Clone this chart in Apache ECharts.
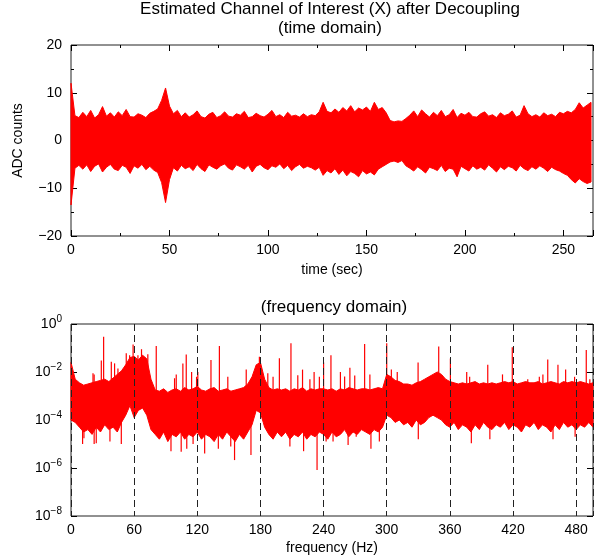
<!DOCTYPE html>
<html>
<head>
<meta charset="utf-8">
<script src="https://cdn.jsdelivr.net/npm/echarts@6/dist/echarts.min.js"></script>
<style>
  html, body { margin: 0; padding: 0; background: #fff; }
  #chart { width: 594px; height: 560px; }
</style>
</head>
<body>
<div id="chart"></div>
<script>
// ---------------- DATA ----------------
// Time domain: envelope of the signal, one pair per 2-second bin (t = 0, 2, ..., 264)
var timeStep = 2;
var timeHigh = [
  12.0, 5.2, 4.8, 5.9, 5.0, 6.3, 4.7, 5.4, 7.1, 5.1,
  5.8, 4.9, 6.0, 5.2, 6.5, 5.0, 4.9, 5.6, 5.3, 4.8,
  5.7, 6.1, 6.6, 8.4, 11.0, 7.2, 5.6, 6.3, 5.0, 5.8,
  4.9, 5.4, 6.2, 5.0, 4.7, 5.5, 5.9, 4.8, 5.2, 6.0,
  5.1, 4.9, 5.6, 5.3, 6.1, 4.8, 5.0, 5.7, 5.2, 4.9,
  5.5, 6.3, 5.0, 5.4, 4.8, 5.9, 5.1, 5.3, 4.9, 5.6,
  5.0, 5.4, 5.2, 6.0, 8.0, 6.1, 5.8, 6.6, 5.9, 6.9,
  6.2, 7.3, 6.0, 6.8, 6.4, 7.0, 6.1, 8.0, 6.5, 6.9,
  5.8, 4.2, 3.9, 4.1, 4.0, 4.6, 5.3, 6.2, 5.0, 6.4,
  5.6, 4.9, 5.9, 5.2, 6.3, 5.0, 5.4, 6.5, 4.8, 5.7,
  5.3, 5.9, 5.0, 4.9, 5.6, 6.0, 5.1, 5.4, 4.8, 5.8,
  5.2, 5.5, 6.2, 4.9, 5.3, 7.3, 5.6, 5.0, 5.4, 4.9,
  5.8, 5.2, 5.5, 5.0, 5.9, 5.6, 6.1, 5.8, 6.5, 7.9,
  6.8, 7.4, 8.0
];
var timeLow = [
  -13.5, -5.8, -5.2, -6.0, -5.1, -6.5, -5.4, -4.9, -6.6, -5.6,
  -5.0, -6.0, -6.3, -5.2, -5.6, -6.9, -5.3, -5.8, -5.0, -6.1,
  -5.4, -6.2, -6.7, -8.8, -13.0, -8.2, -5.7, -6.4, -5.2, -5.9,
  -5.5, -6.3, -5.0, -5.9, -6.5, -5.1, -5.6, -6.0, -5.3, -4.9,
  -5.8, -6.2, -5.1, -5.5, -6.0, -5.2, -6.6, -5.4, -5.0, -5.7,
  -6.1, -5.3, -5.6, -4.9, -5.9, -5.2, -6.3, -5.5, -5.0, -5.8,
  -5.4, -5.7, -6.2, -5.6, -7.3, -6.3, -6.8, -5.9, -7.1, -6.2,
  -7.4, -6.5, -6.9, -7.6, -6.3, -7.0, -6.6, -7.2, -6.0, -5.5,
  -5.0, -4.5, -4.3, -4.6, -4.2, -5.3, -5.8, -6.4, -5.5, -6.1,
  -6.8, -5.6, -5.9, -6.3, -5.2, -6.5, -5.8, -6.0, -7.6, -5.4,
  -5.9, -6.4, -5.3, -6.0, -5.6, -6.2, -5.1, -5.8, -6.6, -5.5,
  -6.1, -5.4, -5.7, -6.4, -5.2, -5.9, -6.3, -5.5, -6.0, -5.3,
  -5.8, -6.5, -5.6, -6.1, -6.4, -6.9, -7.3, -8.2, -8.9, -8.0,
  -8.6, -9.0, -8.7
];

// Frequency domain: envelope (log10 of magnitude), one pair per 4 Hz bin (f = 0, 4, ..., 496)
var freqStep = 4;
var freqHighLog = [
  -1.6, -2.3, -2.45, -2.55, -2.5, -2.45, -2.4, -2.35, -2.3, -2.4,
  -2.25, -2.1, -1.95, -1.7, -1.4, -1.35, -1.5, -1.3, -1.45, -2.3,
  -2.75, -2.8, -2.7, -2.85, -2.75, -2.7, -2.8, -2.65, -2.75, -2.7,
  -2.6, -2.75, -2.8, -2.7, -2.65, -2.8, -2.75, -2.7, -2.8, -2.75,
  -2.7, -2.65, -2.5, -2.2, -1.7, -1.6, -2.3, -2.65, -2.75, -2.7,
  -2.75, -2.7, -2.8, -2.7, -2.75, -2.65, -2.8, -2.7, -2.75, -2.7,
  -2.7, -2.75, -2.7, -2.8, -2.7, -2.75, -2.65, -2.7, -2.75, -2.7,
  -2.7, -2.75, -2.7, -2.65, -2.7, -2.1, -2.2, -2.35, -2.4, -2.5,
  -2.5, -2.55, -2.45, -2.4, -2.3, -2.2, -2.1, -2.0, -2.1, -2.3,
  -2.4, -2.45, -2.5, -2.45, -2.5, -2.45, -2.4, -2.5, -2.45, -2.5,
  -2.45, -2.5, -2.45, -2.4, -2.45, -2.4, -2.5, -2.45, -2.4, -2.45,
  -2.45, -2.4, -2.5, -2.45, -2.4, -2.45, -2.5, -2.4, -2.45, -2.4,
  -2.45, -2.4, -2.45, -2.5, -2.45
];
var freqLowLog = [
  -4.0, -4.1, -4.3, -4.5, -4.4, -4.6, -4.3, -4.5, -4.2, -4.4,
  -4.3, -4.5, -4.1, -3.8, -3.4, -3.9, -3.6, -3.5, -3.8, -4.4,
  -4.6, -4.8, -4.5, -4.9, -4.6, -4.7, -4.5, -4.8, -4.6, -4.7,
  -4.5, -4.8, -4.6, -4.7, -4.9, -4.6, -4.8, -4.5, -4.7, -4.9,
  -4.6, -4.8, -4.5, -4.2, -3.6, -3.7, -4.3, -4.6, -4.8, -4.5,
  -4.7, -4.5, -4.8, -4.6, -4.7, -4.5, -4.8, -4.6, -4.7, -4.5,
  -4.6, -4.8, -4.5, -4.7, -4.6, -4.4, -4.7, -4.5, -4.6, -4.4,
  -4.5, -4.6, -4.4, -4.5, -4.3, -3.8, -3.9, -4.1, -4.0, -4.2,
  -4.1, -4.3, -4.0, -4.2, -4.1, -3.9, -3.8, -3.9, -4.0, -4.2,
  -4.3, -4.1, -4.4, -4.2, -4.3, -4.5, -4.2, -4.4, -4.1, -4.3,
  -4.4, -4.2, -4.3, -4.1, -4.4, -4.2, -4.3, -4.5, -4.2, -4.3,
  -4.1, -4.4, -4.2, -4.3, -4.5, -4.2, -4.4, -4.1, -4.3, -4.2,
  -4.4, -4.2, -4.3, -4.1, -4.3
];
// Narrow spectral lines (peaks above the floor) and deep dips, log10 of magnitude
var spikeBaseLog = -3;
var peakFreq = [20.9, 22, 28.8, 31, 38.3, 41.4, 44.6, 52.5, 55.7, 59, 63.6, 67, 73, 81, 98.4, 100, 106.3, 109.5, 114.6, 119.3, 120.5, 133, 141, 149, 166.5, 179, 187, 192, 198, 209, 215.5, 220, 227, 231, 236, 240, 247, 256, 260, 265, 269.6, 279, 284, 300, 304.4, 310, 329.8, 340.6, 349.4, 360.5, 376, 378.8, 396, 410, 419.3, 434, 445, 448.4, 453, 462.7, 470, 478.5, 489.6, 493];
var peakLog  = [-2.05, -2.1, -1.52, -0.53, -1.57, -1.64, -1.85, -1.22, -1.3, -0.85, -1.3, -1.05, -1.26, -0.92, -2.26, -2.1, -1.65, -1.27, -2.0, -2.2, -2.0, -1.5, -0.92, -2.2, -1.9, -1.36, -2.05, -2.2, -1.43, -0.8, -2.14, -1.9, -2.3, -2.0, -2.2, -1.6, -1.3, -2.0, -2.19, -1.82, -2.15, -0.83, -2.1, -0.8, -1.9, -2.0, -1.6, -2.2, -0.94, -1.44, -2.0, -2.2, -1.7, -2.1, -0.97, -2.3, -2.2, -2.1, -1.48, -1.7, -1.9, -2.2, -1.08, -2.3];
var dipFreq = [11, 12.3, 22, 24, 37, 47.8, 95, 104.7, 110, 116, 127, 140, 151.8, 155.4, 171, 208, 221, 233.8, 242.4, 249, 263.3, 271, 285, 293, 330, 380.4, 398, 458, 479];
var dipLog  = [-5.0, -4.76, -5.0, -4.97, -4.9, -5.0, -5.3, -5.32, -5.2, -5.0, -5.4, -5.2, -5.1, -5.67, -5.46, -5.1, -5.3, -6.08, -4.9, -4.9, -5.04, -4.7, -5.2, -4.9, -4.8, -4.97, -4.8, -4.8, -4.7];

// Axes
var timeMax = 265;
var freqMax = 496;

// ---------------- BUILD ----------------
var RED = '#ff0000';
var FONT = '"Liberation Sans", Arial, Helvetica, sans-serif';

// One band item per panel; the polygon runs along the upper envelope, then back along the lower one.
function makeBandRenderer(xs, highs, lows) {
  return function (params, api) {
    var pts = [];
    for (var i = 0; i < xs.length; i++) pts.push(api.coord([xs[i], highs[i]]));
    for (var k = xs.length - 1; k >= 0; k--) pts.push(api.coord([xs[k], lows[k]]));
    return { type: 'polygon', shape: { points: pts },
             style: { fill: RED, stroke: RED, lineWidth: 1, lineJoin: 'miter' } };
  };
}
var timeX = timeHigh.map(function (v, i) { return i * timeStep; });
var freqX = freqHighLog.map(function (v, i) { return i * freqStep; });
var freqHigh = freqHighLog.map(function (e) { return Math.pow(10, e); });
var freqLow = freqLowLog.map(function (e) { return Math.pow(10, e); });

var spikeData = [];
peakFreq.forEach(function (f, k) { spikeData.push([f, Math.pow(10, peakLog[k])]); });
dipFreq.forEach(function (f, k) { spikeData.push([f, Math.pow(10, dipLog[k])]); });

function minusFmt(v) { return String(v).replace('-', '\u2212'); }
function powFmt(v) {
  var e = Math.round(Math.log10(v));
  return '{b|10}{s|' + minusFmt(e) + '}';
}

var tickStyle = { show: true, inside: true, length: 6, lineStyle: { color: '#000', width: 1 } };
var minorStyle = { show: true, splitNumber: 2, length: 3, lineStyle: { color: '#000', width: 1 } };
var labelStyle = { color: '#000', fontSize: 14, fontFamily: FONT };
var nameStyle = { fontSize: 14, color: '#000', fontFamily: FONT };
var hiddenLine = { show: false, onZero: false };

var chart = echarts.init(document.getElementById('chart'), null, { renderer: 'canvas' });
chart.setOption({
  animation: false,
  backgroundColor: '#fff',
  title: [
    { text: 'Estimated Channel of Interest (X) after Decoupling\n(time domain)',
      left: 330, top: 0, textAlign: 'center', padding: 0,
      textStyle: { fontSize: 17, fontWeight: 'normal', color: '#000', fontFamily: FONT, lineHeight: 19 } },
    { text: '(frequency domain)', left: 334, top: 298, textAlign: 'center', padding: 0,
      textStyle: { fontSize: 17, fontWeight: 'normal', color: '#000', fontFamily: FONT, lineHeight: 19 } }
  ],
  grid: [
    { left: 71, top: 45, width: 522, height: 191, show: true, borderColor: '#222', borderWidth: 1, backgroundColor: 'transparent' },
    { left: 71, top: 324, width: 522, height: 192, show: true, borderColor: '#222', borderWidth: 1, backgroundColor: 'transparent' }
  ],
  xAxis: [
    { gridIndex: 0, type: 'value', min: 0, max: timeMax, interval: 50,
      axisLine: hiddenLine, axisTick: tickStyle, minorTick: minorStyle, splitLine: { show: false },
      axisLabel: Object.assign({ margin: 7, showMaxLabel: false }, labelStyle),
      name: 'time (sec)', nameLocation: 'middle', nameGap: 27, nameTextStyle: nameStyle },
    { gridIndex: 0, type: 'value', position: 'top', min: 0, max: timeMax, interval: 50,
      axisLine: hiddenLine, axisTick: tickStyle, minorTick: minorStyle, splitLine: { show: false },
      axisLabel: { show: false } },
    { gridIndex: 1, type: 'value', min: 0, max: freqMax, interval: 60, z: 5,
      axisLine: hiddenLine, axisTick: { show: false },
      splitLine: { show: true, lineStyle: { color: '#222', width: 1, type: [7, 4] } },
      axisLabel: Object.assign({ margin: 7, showMaxLabel: false }, labelStyle),
      name: 'frequency (Hz)', nameLocation: 'middle', nameGap: 25, nameTextStyle: nameStyle }
  ],
  yAxis: [
    { gridIndex: 0, type: 'value', min: -20, max: 20, interval: 10,
      axisLine: hiddenLine, axisTick: tickStyle, minorTick: minorStyle, splitLine: { show: false },
      axisLabel: Object.assign({ margin: 9, formatter: minusFmt }, labelStyle),
      name: 'ADC counts', nameLocation: 'middle', nameGap: 46, nameRotate: 90, nameTextStyle: nameStyle },
    { gridIndex: 0, type: 'value', position: 'right', min: -20, max: 20, interval: 10,
      axisLine: hiddenLine, axisTick: tickStyle, minorTick: minorStyle, splitLine: { show: false },
      axisLabel: { show: false } },
    { gridIndex: 1, type: 'log', logBase: 10, min: 1e-8, max: 1, interval: 2,
      axisLine: hiddenLine, axisTick: tickStyle, splitLine: { show: false }, minorTick: { show: false },
      axisLabel: { margin: 9, formatter: powFmt, color: '#000', fontFamily: FONT,
        rich: { b: { fontSize: 14, color: '#000', fontFamily: FONT },
                s: { fontSize: 10, color: '#000', fontFamily: FONT, padding: [0, 0, 9, 0] } } } },
    { gridIndex: 1, type: 'log', logBase: 10, position: 'right', min: 1e-8, max: 1, interval: 2,
      axisLine: hiddenLine, axisTick: tickStyle, splitLine: { show: false }, minorTick: { show: false },
      axisLabel: { show: false } }
  ],
  series: [
    { type: 'custom', xAxisIndex: 0, yAxisIndex: 0, data: [[0, 0]], silent: true,
      renderItem: makeBandRenderer(timeX, timeHigh, timeLow) },
    { type: 'custom', xAxisIndex: 2, yAxisIndex: 2, data: [[0, 1e-3]], silent: true,
      renderItem: makeBandRenderer(freqX, freqHigh, freqLow) },
    { type: 'custom', xAxisIndex: 2, yAxisIndex: 2, data: spikeData, silent: true,
      renderItem: function (params, api) {
        var p0 = api.coord([api.value(0), Math.pow(10, spikeBaseLog)]);
        var p1 = api.coord([api.value(0), api.value(1)]);
        return { type: 'line', shape: { x1: p0[0], y1: p0[1], x2: p1[0], y2: p1[1] },
                 style: { stroke: RED, lineWidth: 1.2 } };
      } }
  ]
});
</script>
</body>
</html>
